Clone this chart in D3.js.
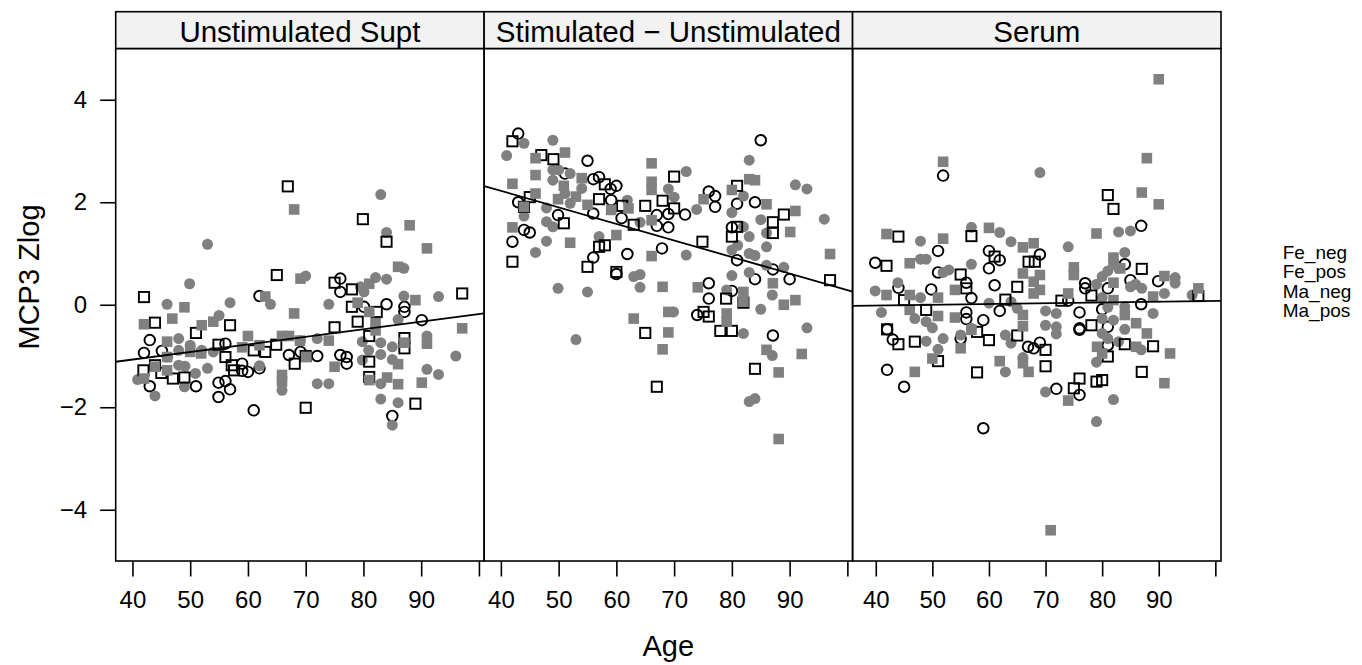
<!DOCTYPE html>
<html>
<head>
<meta charset="utf-8">
<script src="https://cdn.jsdelivr.net/npm/d3@7"></script>
<style>
body { margin: 0; background: #fff; }
svg { display: block; }
svg text { font-family: "Liberation Sans", Arial, Helvetica, sans-serif; fill: #000; }
</style>
</head>
<body>
<svg id="chart" width="1362" height="665"></svg>
<script>
var panels = ["Unstimulated Supt", "Stimulated \u2212 Unstimulated", "Serum"];
var groups = ["Fe_neg", "Fe_pos", "Ma_neg", "Ma_pos"];
var xTicks = [40, 50, 60, 70, 80, 90, 100];
var xTickLabels = ["40", "50", "60", "70", "80", "90", ""];
var yTicks = [-4, -2, 0, 2, 4];
var xDomains = [[37.1, 100.9], [37.1, 100.9], [35.9, 101.0]];
var yDomain = [-5, 5];

// least squares line per panel
var fitIntercept = [-1.661, 3.515, -0.074];
var fitSlope = [0.0148, -0.0323, 0.0015];

// [age, value]
var unstimFeNeg = [[43.0,-0.69],[42.0,-0.94],[45.1,-0.90],[43.0,-1.59],[51.0,-1.59],[54.9,-1.52],[56.1,-1.49],[56.9,-1.65],[54.9,-1.80],[61.0,-2.06],[59.0,-1.15],[59.0,-1.29],[60.0,-1.31],[62.0,-1.24],[62.0,0.17],[56.1,-0.76],[67.1,-0.98],[69.1,-0.92],[72.0,-1.00],[76.0,-0.98],[77.1,-1.15],[77.1,-1.02],[76.0,0.51],[76.0,0.25],[84.0,0.01],[87.1,-0.04],[87.1,-0.14],[90.1,-0.30],[85.0,-2.17],[80.1,-0.04]];
var unstimFePos = [[53.0,1.18],[83.0,2.15],[84.0,1.41],[49.9,0.41],[46.0,0.01],[56.9,0.04],[70.0,0.56],[63.9,0.01],[74.0,0.01],[82.1,0.53],[84.0,0.50],[87.0,0.71],[93.0,0.16],[87.0,0.17],[86.0,-0.29],[55.0,-0.21],[48.0,-0.66],[48.0,-0.89],[50.0,-0.79],[52.0,-0.89],[54.0,-0.92],[46.1,-1.02],[48.0,-1.18],[49.1,-1.20],[50.9,-1.34],[49.0,-1.60],[53.0,-1.24],[43.9,-1.78],[40.9,-1.46],[65.9,-1.67],[72.0,-0.66],[72.0,-1.54],[74.0,-1.54],[83.0,-0.74],[85.0,-0.82],[83.0,-0.97],[85.0,-1.07],[79.8,-0.72],[79.8,-1.08],[83.0,-1.54],[83.0,-1.84],[86.0,-1.91],[85.0,-2.35],[91.0,-0.61],[91.0,-1.26],[93.0,-1.36],[96.0,-1.00],[69.1,-0.70],[62.0,-1.19],[80.9,-0.89],[79.5,0.35],[80.1,0.25]];
var unstimMaNeg = [[66.9,2.31],[79.9,1.67],[84.0,1.23],[65.0,0.58],[42.0,0.15],[97.1,0.22],[43.9,-0.35],[75.0,0.43],[78.0,0.30],[78.0,-0.04],[82.3,-0.14],[79.0,-0.33],[51.0,-0.55],[56.9,-0.40],[75.0,-0.44],[81.0,-0.61],[87.1,-0.65],[87.1,-0.85],[54.9,-0.78],[61.0,-0.89],[63.0,-0.92],[64.9,-0.78],[70.0,-1.00],[68.1,-1.15],[56.1,-1.02],[57.2,-1.18],[57.6,-1.28],[43.9,-1.18],[41.9,-1.28],[45.0,-1.33],[47.0,-1.44],[49.0,-1.42],[81.0,-1.11],[81.0,-1.41],[70.0,-2.01],[89.0,-1.93]];
var unstimMaPos = [[68.0,1.86],[88.0,1.55],[91.0,1.10],[86.0,0.74],[69.1,0.51],[81.0,0.41],[63.0,0.16],[89.0,0.09],[49.0,-0.05],[46.9,-0.27],[42.0,-0.38],[52.0,-0.40],[54.0,-0.33],[68.0,-0.17],[79.0,0.04],[81.0,-0.14],[82.1,-0.36],[82.1,-0.50],[74.0,-0.70],[65.9,-0.61],[67.1,-0.61],[69.0,-0.70],[60.0,-0.61],[59.0,-0.83],[62.0,-0.79],[46.0,-0.72],[46.0,-1.02],[46.0,-1.28],[50.0,-0.92],[51.9,-0.95],[43.9,-1.21],[42.0,-1.44],[65.9,-1.37],[65.9,-1.50],[70.1,-1.02],[75.0,-1.21],[86.0,-1.16],[86.0,-1.55],[90.1,-1.52],[81.0,-1.47],[84.1,-1.42],[97.1,-0.46],[91.0,-0.76],[87.1,-0.74]];

var stimFeNeg = [[43.0,3.34],[55.0,2.81],[85.0,3.21],[56.0,2.45],[57.0,2.49],[59.0,2.26],[60.0,2.32],[51.1,2.56],[59.1,2.04],[56.0,1.78],[49.9,1.75],[43.0,2.00],[44.0,1.46],[45.0,1.41],[42.0,1.23],[60.9,1.69],[61.9,0.99],[56.0,0.92],[60.0,0.60],[67.0,1.75],[69.0,1.77],[67.0,1.54],[69.0,1.51],[71.9,1.76],[67.9,1.10],[76.0,2.21],[77.1,2.12],[77.1,1.91],[80.9,1.97],[84.0,2.00],[80.0,1.51],[80.9,0.87],[87.1,0.69],[84.0,0.50],[90.0,0.50],[76.0,0.42],[76.0,0.12],[80.0,0.27],[74.0,-0.20],[87.1,-0.60]];
var stimFePos = [[41.0,2.91],[44.0,3.15],[49.0,3.21],[49.0,2.63],[49.0,2.43],[52.0,2.56],[50.0,2.63],[51.1,2.17],[54.0,2.27],[52.0,1.98],[47.9,1.89],[44.0,1.73],[47.9,1.62],[49.0,1.52],[47.9,1.24],[46.0,1.02],[49.9,0.32],[55.0,0.25],[53.0,-0.68],[57.0,1.33],[61.9,2.04],[64.1,1.61],[63.0,0.55],[64.1,0.59],[64.1,0.34],[69.0,2.26],[70.0,2.10],[72.1,2.60],[72.1,0.97],[73.9,1.86],[69.9,-0.14],[83.0,2.82],[82.0,2.12],[80.0,1.80],[82.0,1.52],[83.0,1.33],[85.0,1.66],[86.0,1.40],[86.0,1.13],[80.0,1.07],[81.0,1.16],[83.0,1.00],[84.0,0.96],[86.0,0.77],[89.0,0.73],[83.0,0.63],[80.0,0.57],[87.0,0.19],[85.0,-0.09],[82.0,-0.56],[87.0,-0.99],[91.0,2.34],[93.0,2.26],[96.0,1.67],[93.0,-0.45],[83.0,-1.89],[84.0,-1.83],[79.1,0.29]];
var stimMaNeg = [[42.0,3.19],[47.0,2.92],[49.1,2.84],[70.0,2.50],[58.0,2.35],[45.0,2.10],[44.0,1.91],[57.0,2.06],[61.0,1.93],[65.0,1.93],[68.0,2.03],[70.0,1.88],[50.9,1.59],[63.0,1.56],[42.0,0.84],[57.0,1.13],[58.0,1.16],[55.0,0.74],[60.0,0.64],[74.9,1.23],[80.9,2.32],[80.9,1.52],[80.0,1.33],[87.1,1.61],[89.0,1.76],[87.1,1.40],[97.0,0.48],[65.0,-0.55],[67.0,-1.60],[75.1,-0.14],[76.0,-0.23],[78.0,-0.51],[80.0,-0.51],[79.0,0.12],[82.0,0.04],[84.0,-1.25]];
var stimMaPos = [[42.0,2.36],[46.0,2.86],[51.1,2.97],[46.0,2.53],[46.0,2.17],[49.9,2.06],[50.9,2.32],[54.0,2.47],[53.0,2.11],[55.0,1.95],[44.0,1.91],[42.0,1.51],[52.0,1.21],[59.1,1.85],[60.0,1.36],[62.1,1.88],[66.1,2.76],[66.1,2.40],[66.1,2.24],[66.1,1.65],[66.1,0.95],[68.0,0.35],[63.0,-0.27],[69.0,-0.14],[69.0,-0.54],[68.0,-0.87],[74.1,0.34],[75.1,2.06],[80.0,2.24],[83.0,2.45],[84.0,2.43],[86.0,1.96],[91.0,1.83],[90.1,1.42],[87.1,0.42],[82.0,0.25],[82.0,0.06],[79.1,-0.17],[79.1,-0.33],[89.0,0.00],[91.0,0.09],[86.0,-0.88],[92.1,-0.96],[88.1,-1.32],[88.1,-2.62],[97.0,0.99]];

var serumFeNeg = [[51.9,2.52],[39.9,0.82],[51.0,1.05],[51.0,0.63],[60.0,1.05],[61.9,0.87],[60.0,0.71],[61.0,0.38],[69.0,0.98],[56.0,0.43],[56.9,0.13],[49.8,0.30],[44.0,0.33],[56.0,-0.15],[56.0,-0.28],[59.0,-0.30],[61.9,-0.12],[55.0,-0.66],[42.0,-0.48],[43.0,-0.68],[42.0,-1.27],[45.0,-1.60],[59.0,-2.41],[66.9,-0.82],[67.9,-0.85],[69.0,-0.74],[71.9,-1.64],[76.0,-1.76],[76.0,-0.46],[76.0,-0.49],[76.0,-0.15],[77.0,0.42],[77.0,0.32],[80.0,-0.09],[81.0,-0.43],[81.0,-0.79],[84.0,0.79],[85.0,0.48],[86.9,1.54],[89.9,0.46],[86.9,0.01],[81.0,0.32],[74.0,0.08]];
var serumFePos = [[69.0,2.58],[56.9,1.51],[61.9,1.41],[63.9,1.23],[74.0,1.13],[47.9,1.24],[47.9,0.89],[48.9,0.89],[51.9,0.63],[52.9,0.68],[56.9,0.79],[43.9,0.43],[39.9,0.27],[47.9,0.14],[41.0,-0.15],[46.9,-0.27],[48.9,-0.33],[50.0,-0.45],[48.9,-0.71],[51.9,-0.66],[51.0,-0.87],[55.0,-0.59],[56.9,-0.46],[60.0,0.03],[63.9,0.06],[65.0,-0.07],[62.9,-0.59],[63.9,-0.75],[66.0,-1.03],[62.9,-1.31],[70.0,-0.12],[71.9,-0.17],[70.0,-0.40],[71.9,-0.43],[71.9,-0.57],[70.0,-1.70],[79.0,-2.28],[82.0,-1.85],[79.0,-1.12],[82.9,1.42],[85.0,1.44],[84.0,1.02],[82.9,0.71],[81.0,0.66],[80.0,0.55],[79.0,0.40],[85.0,0.35],[87.0,0.32],[80.0,0.14],[81.0,-0.05],[84.0,-0.04],[80.0,-0.27],[82.0,-0.30],[84.0,-0.48],[80.0,-0.56],[81.0,-0.66],[82.9,-0.72],[86.9,-0.88],[89.0,-0.17],[91.0,0.22],[92.9,0.53],[92.9,0.42],[95.9,0.19],[85.9,0.40]];
var serumMaNeg = [[44.0,1.33],[41.9,0.76],[56.9,1.34],[61.0,0.94],[55.0,0.59],[56.0,0.32],[65.0,0.35],[62.9,0.10],[67.0,0.84],[68.1,0.84],[72.8,0.08],[45.0,0.09],[48.9,-0.10],[42.0,-0.48],[44.0,-0.77],[46.9,-0.72],[51.0,-1.10],[57.9,-0.53],[60.0,-0.69],[65.0,-0.60],[70.0,-0.88],[70.0,-1.20],[57.9,-1.32],[76.0,-1.44],[75.0,-1.63],[79.0,-1.50],[80.0,-1.47],[81.0,2.14],[82.0,1.87],[87.0,0.70],[78.1,-0.40],[78.1,0.18],[84.0,-0.77],[89.0,-0.81],[81.0,-1.01],[87.0,-1.31],[97.0,0.17]];
var serumMaPos = [[90.0,4.40],[87.9,2.86],[87.0,2.19],[90.0,1.96],[51.9,2.79],[79.0,1.39],[41.9,1.38],[51.9,1.29],[60.0,1.50],[66.0,1.12],[67.9,1.20],[46.0,0.81],[75.0,0.73],[75.0,0.58],[82.0,0.92],[82.0,0.79],[66.0,0.61],[69.0,0.58],[67.9,0.45],[69.0,0.29],[67.9,0.22],[41.9,0.19],[46.0,0.19],[51.0,0.14],[54.0,0.29],[54.0,-0.25],[51.0,-0.22],[46.0,-0.10],[66.0,-0.20],[66.0,-0.42],[56.9,-0.49],[55.0,-0.85],[50.0,-1.05],[46.9,-1.31],[61.9,-1.10],[66.0,-1.14],[67.0,-1.31],[74.0,-1.87],[74.0,0.22],[79.1,-0.82],[80.0,-0.95],[82.0,0.09],[84.0,-0.20],[86.0,-0.36],[86.0,-0.82],[87.9,-0.56],[89.0,0.16],[91.0,0.56],[92.0,-0.95],[91.0,-1.53],[97.0,0.32],[70.9,-4.40],[82.0,0.43],[83.2,0.71]];

var panelData = [
	[unstimFeNeg, unstimFePos, unstimMaNeg, unstimMaPos],
	[stimFeNeg, stimFePos, stimMaNeg, stimMaPos],
	[serumFeNeg, serumFePos, serumMaNeg, serumMaPos]
];

// layout (note: "top" is taken by window.top, so use own names)
var padL = 115.7, padR = 1221, stripTop = 11.7, stripH = 36.8, plotBottom = 561;
var plotTop = stripTop + stripH;
var panelW = (padR - padL) / panels.length;
var gray = "#808080";
var fontFam = '"Liberation Sans", Arial, Helvetica, sans-serif';

var svg = d3.select("#chart");

var y = d3.scaleLinear().domain(yDomain).range([plotBottom, plotTop]);

// symbol per group: open circle, filled circle, open square, filled square
function drawGroup(g, pts, gi, x) {
	var open = (gi % 2 == 0);
	var col = open ? "#000" : gray;
	if (gi < 2) {
		g.selectAll(".pt" + gi)
		  .data(pts)
		  .enter()
		  .append("circle")
		  .attr("class", "pt" + gi)
		  .attr("cx", function(d) { return x(d[0]); })
		  .attr("cy", function(d) { return y(d[1]); })
		  .attr("r", open ? 5.3 : 5.5)
		  .attr("fill", open ? "none" : col)
		  .attr("stroke", open ? col : "none")
		  .attr("stroke-width", 1.9);
	} else {
		var s = open ? 10.2 : 10.6;
		g.selectAll(".pt" + gi)
		  .data(pts)
		  .enter()
		  .append("rect")
		  .attr("class", "pt" + gi)
		  .attr("x", function(d) { return x(d[0]) - s/2; })
		  .attr("y", function(d) { return y(d[1]) - s/2; })
		  .attr("width", s)
		  .attr("height", s)
		  .attr("fill", open ? "none" : col)
		  .attr("stroke", open ? col : "none")
		  .attr("stroke-width", 1.9);
	}
}

function styleAxis(a) {
	a.attr("font-family", fontFam).attr("font-size", 24);
	a.select(".domain").remove();
	a.selectAll(".tick line").attr("stroke", "#000").attr("stroke-width", 1.6);
	a.selectAll(".tick text").attr("fill", "#000");
}

panels.forEach(function(name, pi) {
	var x0 = padL + pi * panelW;
	var x = d3.scaleLinear().domain(xDomains[pi]).range([x0, x0 + panelW]);

	svg.append("clipPath").attr("id", "clip" + pi)
	  .append("rect")
	  .attr("x", x0).attr("y", plotTop)
	  .attr("width", panelW).attr("height", plotBottom - plotTop);

	var g = svg.append("g").attr("clip-path", "url(#clip" + pi + ")");
	panelData[pi].forEach(function(pts, gi) { drawGroup(g, pts, gi, x); });

	// fitted line across the panel
	var xs = xDomains[pi];
	g.append("line")
	  .attr("x1", x(xs[0])).attr("y1", y(fitIntercept[pi] + fitSlope[pi] * xs[0]))
	  .attr("x2", x(xs[1])).attr("y2", y(fitIntercept[pi] + fitSlope[pi] * xs[1]))
	  .attr("stroke", "#000")
	  .attr("stroke-width", 1.8);

	// border
	svg.append("rect")
	  .attr("x", x0).attr("y", plotTop)
	  .attr("width", panelW).attr("height", plotBottom - plotTop)
	  .attr("fill", "none").attr("stroke", "#000").attr("stroke-width", 1.6);

	// strip
	svg.append("rect")
	  .attr("x", x0).attr("y", stripTop)
	  .attr("width", panelW).attr("height", stripH)
	  .attr("fill", "#f2f2f2").attr("stroke", "#000").attr("stroke-width", 1.6);
	svg.append("text")
	  .attr("x", x0 + panelW / 2).attr("y", stripTop + 30)
	  .attr("text-anchor", "middle")
	  .attr("font-size", 29.5)
	  .text(name);

	// bottom axis
	var ax = d3.axisBottom(x)
	  .tickValues(xTicks)
	  .tickFormat(function(d, i) { return xTickLabels[i]; })
	  .tickSize(15.5)
	  .tickPadding(14);
	svg.append("g").attr("transform", "translate(0," + plotBottom + ")").call(ax).call(styleAxis);
});

// left axis
var ay = d3.axisLeft(y).tickValues(yTicks).tickSize(15.5).tickPadding(13);
svg.append("g").attr("transform", "translate(" + padL + ",0)").call(ay).call(styleAxis);

// axis titles
svg.append("text")
  .attr("x", (padL + padR) / 2).attr("y", 656)
  .attr("text-anchor", "middle")
  .attr("font-size", 29)
  .text("Age");
svg.append("text")
  .attr("transform", "translate(39,277) rotate(-90)")
  .attr("text-anchor", "middle")
  .attr("font-size", 29)
  .text("MCP3 Zlog");

// key (text only)
svg.append("g").selectAll("text")
  .data(groups)
  .enter()
  .append("text")
  .attr("x", 1282.7)
  .attr("y", function(d, i) { return 258.5 + i * 19.5; })
  .attr("font-size", 19)
  .text(function(d) { return d; });
</script>
</body>
</html>
